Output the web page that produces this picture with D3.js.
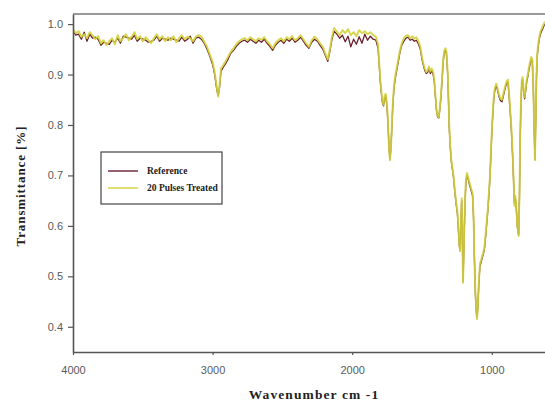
<!DOCTYPE html>
<html>
<head>
<meta charset="utf-8">
<script src="https://cdn.jsdelivr.net/npm/d3@7"></script>
<style>
  body { margin: 0; background: #fff; }
  .tick text { font-family: "Liberation Sans", Arial, sans-serif; font-size: 11px; fill: #5a5a5a; }
  .axis path, .axis line { stroke: #555; }
  .title { font-family: "Liberation Serif", "Times New Roman", serif; font-weight: bold; fill: #222; }
</style>
</head>
<body>
<div id="chart"></div>
<script>
// FTIR spectrum
const wavenumbers = [
  4000, 3980, 3960, 3940, 3920, 3900, 3880, 3860, 3840, 3820,
  3800, 3780, 3760, 3740, 3720, 3700, 3680, 3660, 3640, 3620,
  3600, 3580, 3560, 3540, 3520, 3500, 3480, 3460, 3440, 3420,
  3400, 3380, 3360, 3340, 3320, 3300, 3280, 3260, 3240, 3220,
  3200, 3180, 3160, 3140, 3120,
  3100, 3080, 3060, 3040, 3020, 3000, 2985, 2970, 2960, 2950,
  2940, 2925, 2910, 2890, 2870, 2850, 2830, 2810, 2790,
  2770, 2750, 2730, 2710, 2690, 2670, 2650, 2630, 2610, 2590,
  2570, 2550, 2530, 2510, 2490, 2470, 2450, 2430, 2410, 2390,
  2370, 2350, 2330, 2310, 2290, 2270, 2250, 2230, 2210, 2190,
  2175, 2160, 2145, 2130, 2110, 2090, 2070, 2050, 2030, 2010,
  1990, 1970, 1950, 1930, 1910, 1890, 1870, 1850, 1830,
  1815, 1808, 1800, 1792, 1784, 1776, 1768, 1760, 1752, 1744,
  1737, 1730, 1723, 1716, 1709, 1700, 1690, 1680, 1670, 1658,
  1645, 1630, 1615, 1600, 1585, 1570, 1555, 1540, 1525, 1512,
  1500, 1490, 1480, 1470, 1460, 1450, 1440, 1430, 1420, 1412,
  1404, 1396, 1388, 1380, 1372, 1364, 1356, 1348, 1340, 1332,
  1325, 1315, 1305, 1298, 1290, 1282, 1275, 1265, 1255, 1247,
  1240, 1233, 1228, 1222, 1216, 1211, 1206, 1200, 1193, 1186,
  1178, 1170, 1162, 1154, 1146, 1138, 1131, 1125, 1118, 1112,
  1106, 1100, 1093, 1085, 1077, 1069, 1060, 1052, 1044, 1036,
  1028, 1020, 1013, 1006,
  998, 991, 984, 977, 968, 958, 948, 938, 927, 915,
  903, 892, 884, 876, 868, 860, 852, 845, 838, 832,
  825, 817, 808, 802, 797, 791, 785, 779, 772, 765,
  758, 750, 742, 734, 726, 718, 710, 703, 697, 691,
  686, 680, 675, 668, 660, 652, 644, 636, 628, 620
];

const reference = [
  .986, .978, .980, .970, .984, .966, .980, .972, .974, .970,
  .958, .964, .962, .960, .968, .964, .972, .962, .976, .974,
  .972, .970, .978, .966, .972, .970, .968, .964, .966, .968,
  .976, .966, .972, .970, .968, .972, .970, .968, .966, .974,
  .966, .970, .976, .962, .972,
  .974, .970, .962, .950, .936, .920, .900, .870, .858, .876,
  .906, .914, .920, .930, .942, .948, .956, .962, .966,
  .968, .964, .970, .966, .962, .968, .964, .970, .962, .956,
  .948, .958, .964, .968, .962, .970, .966, .972, .964, .968,
  .974, .966, .958, .952, .964, .970, .966, .958, .950, .936,
  .926, .946, .970, .986, .980, .972, .978, .965, .976, .955,
  .970, .960, .975, .962, .980, .968, .976, .970, .968,
  .952, .925, .890, .865, .845, .838, .852, .858, .840, .805,
  .758, .732, .752, .795, .840, .875, .895, .910, .925, .944,
  .958, .966, .972, .974, .968, .970, .966, .968, .960, .950,
  .930, .918, .908, .902, .904, .912, .902, .908, .900, .886,
  .856, .828, .816, .814, .832, .856, .890, .926, .944, .948,
  .942, .895, .795, .758, .728, .712, .698, .668, .642, .626,
  .596, .562, .552, .598, .650, .578, .490, .556, .636, .686,
  .700, .694, .684, .676, .668, .660, .616, .538, .468, .433,
  .418, .438, .486, .520, .528, .536, .545, .556, .580, .606,
  .632, .666, .696, .745,
  .796, .830, .858, .870, .878, .868, .856, .848, .846, .860,
  .874, .884, .886, .856, .826, .790, .745, .696, .645, .656,
  .636, .598, .582, .655, .770, .845, .886, .890, .866, .852,
  .866, .886, .896, .910, .920, .930, .926, .876, .796, .732,
  .796, .895, .935, .955, .970, .980, .986, .990, .996, 1.000
];

const treated = [
  .990, .982, .986, .975, .980, .972, .984, .978, .970, .976,
  .962, .968, .958, .966, .972, .960, .978, .966, .972, .980,
  .968, .975, .984, .970, .976, .966, .974, .968, .962, .972,
  .980, .970, .976, .966, .974, .968, .976, .964, .972, .978,
  .970, .975, .972, .966, .975,
  .978, .975, .965, .955, .940, .925, .905, .875, .856, .880,
  .912, .918, .925, .935, .945, .952, .960, .966, .970,
  .972, .968, .974, .970, .966, .972, .969, .974, .966, .960,
  .952, .962, .968, .972, .966, .974, .970, .976, .968, .972,
  .978, .970, .962, .955, .968, .975, .970, .962, .955, .940,
  .930, .950, .975, .992, .985, .978, .988, .982, .990, .978,
  .984, .976, .988, .982, .986, .980, .984, .978, .975,
  .960, .930, .895, .870, .848, .840, .858, .862, .845, .810,
  .760, .730, .750, .800, .845, .880, .900, .915, .930, .948,
  .962, .972, .977, .978, .972, .976, .971, .974, .966, .955,
  .935, .922, .912, .905, .908, .916, .906, .912, .905, .890,
  .860, .830, .818, .815, .835, .860, .895, .930, .948, .952,
  .945, .900, .800, .760, .730, .715, .700, .672, .645, .630,
  .600, .565, .550, .600, .655, .580, .487, .560, .640, .690,
  .705, .698, .688, .680, .672, .665, .620, .540, .470, .435,
  .415, .440, .490, .525, .532, .540, .548, .560, .585, .610,
  .635, .670, .700, .750,
  .800, .835, .862, .875, .882, .872, .860, .852, .850, .865,
  .878, .888, .890, .860, .830, .795, .750, .700, .640, .660,
  .640, .600, .580, .660, .775, .850, .890, .895, .870, .855,
  .870, .890, .900, .915, .925, .935, .930, .880, .800, .730,
  .800, .900, .940, .960, .975, .985, .990, .995, 1.000, 1.005
];

const seriesNames = ['Reference', '20 Pulses Treated'];
const seriesColors = ['#6b1f2e', '#d2d23c'];
const xTicks = [4000, 3000, 2000, 1000];
const yTicks = [0.4, 0.5, 0.6, 0.7, 0.8, 0.9, 1.0];

const width = 545;
const height = 405;
const plotLeft = 73;
const plotTop = 14;
const plotBottom = 352;

const x = d3.scaleLinear().domain([4000, 619]).range([plotLeft, width]);
const y = d3.scaleLinear().domain([0.35, 1.02]).range([plotBottom, plotTop]);

const svg = d3.select('#chart')
  .append('svg')
  .attr('width', width)
  .attr('height', height);

svg.append('clipPath')
  .attr('id', 'plot-clip')
  .append('rect')
  .attr('x', plotLeft)
  .attr('y', plotTop)
  .attr('width', width - plotLeft)
  .attr('height', plotBottom - plotTop);

// top frame line
svg.append('line')
  .attr('x1', plotLeft).attr('x2', width)
  .attr('y1', plotTop).attr('y2', plotTop)
  .attr('stroke', '#9a9a9a')
  .attr('stroke-width', 2);

const line = d3.line()
  .x((d)=> x(d[0]))
  .y((d)=> y(d[1]));

const series = [reference, treated].map((vals)=> d3.zip(wavenumbers, vals));

svg.append('g')
  .attr('clip-path', 'url(#plot-clip)')
  .selectAll('path')
  .data(series)
  .enter()
  .append('path')
  .attr('fill', 'none')
  .attr('stroke', (d, i)=> seriesColors[i])
  .attr('stroke-width', (d, i)=> i === 0 ? 1.3 : 1.9)
  .attr('stroke-opacity', (d, i)=> i === 0 ? 1 : 0.9)
  .attr('stroke-linejoin', 'round')
  .attr('d', line);

const yAxis = svg.append('g')
  .attr('class', 'axis')
  .attr('transform', `translate(${plotLeft},0)`)
  .call(d3.axisLeft(y)
    .tickValues(yTicks)
    .tickFormat(d3.format('.1f'))
    .tickSize(5)
    .tickSizeOuter(0)
    .tickPadding(5));
yAxis.select('.domain').attr('stroke-width', 1.6);
yAxis.selectAll('.tick line').attr('stroke-width', 1.2);

const xAxis = svg.append('g')
  .attr('class', 'axis')
  .attr('transform', `translate(0,${plotBottom})`)
  .call(d3.axisBottom(x)
    .tickValues(xTicks)
    .tickFormat(d3.format('d'))
    .tickSize(3)
    .tickSizeOuter(0)
    .tickPadding(11));
xAxis.select('.domain').attr('stroke-width', 1.6);
xAxis.selectAll('.tick line').attr('stroke-width', 1.2);

svg.append('text')
  .attr('class', 'title')
  .attr('transform', 'translate(25,186) rotate(-90)')
  .attr('text-anchor', 'middle')
  .attr('font-size', 13)
  .attr('letter-spacing', 0.9)
  .text('Transmittance [%]');

svg.append('text')
  .attr('class', 'title')
  .attr('x', 314)
  .attr('y', 399)
  .attr('text-anchor', 'middle')
  .attr('font-size', 13.5)
  .attr('letter-spacing', 1.1)
  .text('Wavenumber cm -1');

// legend
const legend = svg.append('g').attr('transform', 'translate(101,152)');
legend.append('rect')
  .attr('width', 121)
  .attr('height', 52)
  .attr('fill', '#fff')
  .attr('stroke', '#444')
  .attr('stroke-width', 1.2);

const item = legend.selectAll('g.item')
  .data(seriesNames)
  .enter()
  .append('g')
  .attr('class', 'item')
  .attr('transform', (d, i)=> `translate(0,${19 + i * 17})`);

item.append('line')
  .attr('x1', 7).attr('x2', 37)
  .attr('stroke', (d, i)=> seriesColors[i])
  .attr('stroke-width', 1.4);

item.append('text')
  .attr('class', 'title')
  .attr('x', 46)
  .attr('dy', '0.35em')
  .attr('font-size', 9.5)
  .text((d)=> d);
</script>
</body>
</html>
